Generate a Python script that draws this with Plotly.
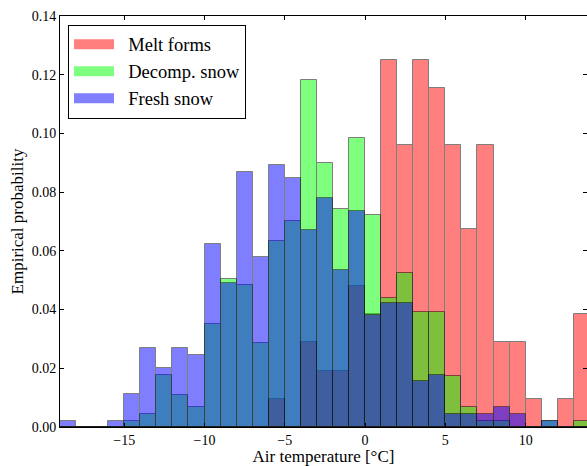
import plotly.graph_objects as go

# Left edges of 1 °C bins
bin_left = list(range(-19, 14))

melt_forms = [0, 0, 0, 0, 0, 0, 0, 0, 0, 0, 0, 0, 0,
              0.0096, 0, 0.0288, 0.0192, 0.0192, 0.048, 0.0385,
              0.125, 0.096, 0.125, 0.1154, 0.096, 0.0673, 0.096,
              0.0288, 0.0288, 0.0096, 0, 0.0096, 0.0385]

decomp_snow = [0, 0, 0, 0, 0.0021, 0.0043, 0.0177, 0.0109, 0.0067, 0.0351,
               0.0503, 0.0483, 0.0285, 0.0635, 0.0702, 0.1182, 0.0898, 0.0744,
               0.0985, 0.0722, 0.0438, 0.0526, 0.0393, 0.0393, 0.0175, 0.0067,
               0.0021, 0.0021, 0, 0, 0.0021, 0, 0.0021]

fresh_snow = [0.0022, 0, 0, 0.0022, 0.0111, 0.0268, 0.020, 0.0268, 0.0245, 0.0623,
              0.049, 0.0869, 0.058, 0.0891, 0.0847, 0.067, 0.078, 0.0535,
              0.0736, 0.038, 0.0423, 0.0423, 0.0157, 0.0177, 0.0045, 0.0045,
              0.0045, 0.0067, 0.0045, 0, 0.0022, 0, 0]

series = [
    ("Melt forms", melt_forms, "#ff0000"),
    ("Decomp. snow", decomp_snow, "#00ff00"),
    ("Fresh snow", fresh_snow, "#0000ff"),
]

SERIF = "Liberation Serif"
PAD = "\u00a0\u00a0"

fig = go.Figure()
for name, vals, col in series:
    fig.add_trace(go.Bar(
        x=bin_left, y=vals, width=1, offset=0, name=name,
        marker=dict(color=col, line=dict(color="black", width=1)),
        opacity=0.5, showlegend=False, legendgroup=name,
    ))
# legend swatches (wide rectangles like the reference)
for name, vals, col in series:
    fig.add_trace(go.Scatter(
        x=[None], y=[None], mode="lines", name=PAD + name, legendgroup=name,
        line=dict(color=col, width=13), opacity=0.5, showlegend=True,
    ))

axis_common = dict(
    showline=True, linecolor="black", linewidth=1, mirror="allticks",
    ticks="inside", ticklen=4, tickcolor="black", showgrid=False,
    zeroline=False, tickfont=dict(family=SERIF, size=14, color="black"),
)

fig.update_layout(
    width=587, height=466,
    margin=dict(l=60, r=0, t=16, b=39),
    paper_bgcolor="white", plot_bgcolor="white",
    barmode="overlay", bargap=0,
    font=dict(family=SERIF, color="black"),
    xaxis=dict(range=[-19, 13.82], tickvals=[-15, -10, -5, 0, 5, 10],
               title=dict(text="Air temperature [°C]", font=dict(family=SERIF, size=17), standoff=7),
               **axis_common),
    yaxis=dict(range=[0, 0.14], dtick=0.02, tickformat=".2f",
               title=dict(text="Empirical probability", font=dict(family=SERIF, size=17), standoff=3),
               **axis_common),
    legend=dict(x=0.0152, y=0.979, xanchor="left", yanchor="top",
                bgcolor="white", bordercolor="black", borderwidth=1,
                font=dict(family=SERIF, size=18.5), itemwidth=40,
                tracegroupgap=0),
    showlegend=True,
)

fig.write_html("out.html", config={"displayModeBar": False},
               post_script="document.body.style.margin='0';")
